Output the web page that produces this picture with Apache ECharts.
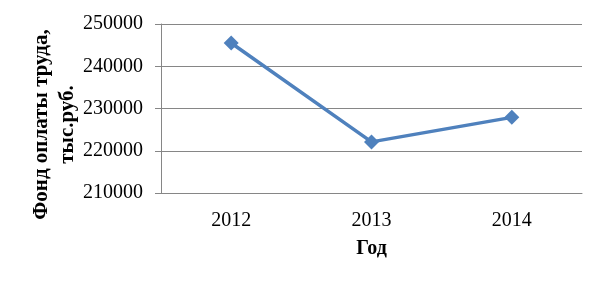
<!DOCTYPE html>
<html><head><meta charset="utf-8">
<script src="https://cdn.jsdelivr.net/npm/echarts@6/dist/echarts.min.js"></script>
<style>html,body{margin:0;padding:0;background:#fff}#c{width:605px;height:286px}</style>
</head><body><div id="c"></div>
<script>
var categories = ['2012', '2013', '2014'];
var values = [245500, 222100, 227900];
var yMin = 210000, yMax = 250000, yStep = 10000;
var xName = 'Год';
var yName = 'Фонд оплаты труда,\nтыс.руб.';

var chart = echarts.init(document.getElementById('c'));
var font = '"Liberation Serif", "Times New Roman", serif';
chart.setOption({
  animation: false,
  grid: {left: 161, right: 23, top: 24, bottom: 93, containLabel: false, outerBoundsMode: 'none'},
  xAxis: {
    type: 'category', data: categories, boundaryGap: true,
    name: xName, nameLocation: 'middle', nameGap: 46, nameMoveOverlap: false,
    nameTextStyle: {fontFamily: font, fontSize: 20, fontWeight: 'bold', color: '#000'},
    axisLine: {show: true, lineStyle: {color: '#868686', width: 1}},
    axisTick: {show: false},
    axisLabel: {fontFamily: font, fontSize: 20, color: '#000', margin: 18}
  },
  yAxis: {
    type: 'value', min: yMin, max: yMax, interval: yStep,
    name: yName, nameLocation: 'middle', nameGap: 80, nameRotate: 90, nameMoveOverlap: false,
    nameTextStyle: {fontFamily: font, fontSize: 21, fontWeight: 'bold', color: '#000', lineHeight: 26, align: 'center', padding: [0, 32, 0, 0]},
    axisLine: {show: true, lineStyle: {color: '#868686', width: 1}},
    axisTick: {show: true, length: 6, lineStyle: {color: '#868686'}},
    axisLabel: {fontFamily: font, fontSize: 20, color: '#000', margin: 18, formatter: function (v) { return String(v); }},
    splitLine: {show: true, lineStyle: {color: '#868686', width: 1}}
  },
  series: [{
    type: 'line', data: values,
    symbol: 'diamond', symbolSize: 15,
    lineStyle: {color: '#4F81BD', width: 3.5},
    itemStyle: {color: '#4F81BD'}
  }]
});
</script></body></html>
